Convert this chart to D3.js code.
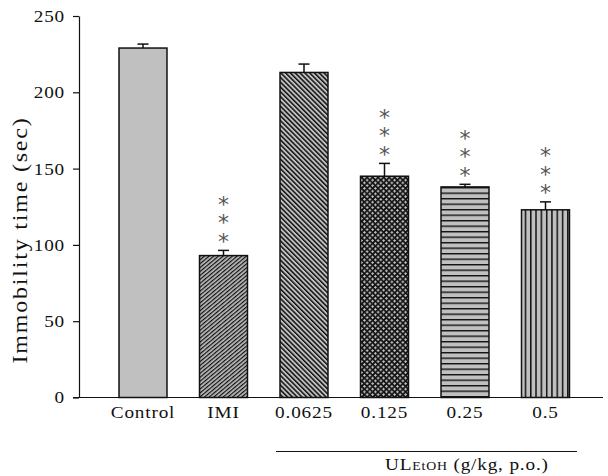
<!DOCTYPE html>
<html>
<head>
<meta charset="utf-8">
<script src="https://cdn.jsdelivr.net/npm/d3@7/dist/d3.min.js"></script>
<style>
  html, body { margin: 0; padding: 0; background: #fff; }
  svg { display: block; }
  text { font-family: "Liberation Serif", "Times New Roman", serif; fill: #111; }
  .stars { writing-mode: vertical-rl; text-orientation: upright; }
</style>
</head>
<body>
<svg id="chart" width="608" height="476"></svg>
<script>
const categories = ["Control", "IMI", "0.0625", "0.125", "0.25", "0.5"];
const means = [229, 93, 213, 145, 138, 123];
const errors = [2.6, 3.4, 5.5, 8.4, 1.7, 5.2];
const starCounts = [0, 3, 0, 3, 3, 3];
const patterns = ["solid", "fwd", "back", "check", "horiz", "vert"];
const yTicks = [0, 50, 100, 150, 200, 250];
const yTitle = "Immobility time (sec)";
const groupMain = "UL";
const groupSub = "EtOH";
const groupRest = " (g/kg, p.o.)";

const svg = d3.select("#chart");
const GRAY = "#c0c0c0", INK = "#111";
const SX = 1.2; // horizontal widening of the serif face
const LS = "0.7px";

const y = d3.scaleLinear().domain([0, 250]).range([397.5, 16]);
const x = d3.scaleBand().domain(categories).range([102.75, 585.75])
  .paddingInner(0.404).paddingOuter(0.202);

// ---- patterns ----
const defs = svg.append("defs");
function linePattern(id, period, lw, rot) {
  const p = defs.append("pattern").attr("id", id)
    .attr("patternUnits", "userSpaceOnUse")
    .attr("width", period).attr("height", 10)
    .attr("patternTransform", `rotate(${rot})`);
  p.append("rect").attr("width", period).attr("height", 10).attr("fill", GRAY);
  p.append("rect").attr("x", 0).attr("width", lw).attr("height", 10).attr("fill", INK);
}
linePattern("fwd", 3.0, 1.25, 50);
linePattern("back", 3.4, 1.5, -45);
linePattern("vert", 5.3, 1.5, 0);
linePattern("horiz", 5.5, 1.4, 90);
{
  const p = defs.append("pattern").attr("id", "check")
    .attr("patternUnits", "userSpaceOnUse").attr("width", 5.5).attr("height", 5.5);
  p.append("rect").attr("width", 5.5).attr("height", 5.5).attr("fill", "#151515");
  [[1.375, 1.375], [4.125, 4.125]].forEach(([cx, cy]) => {
    p.append("rect").attr("x", cx - 1.4).attr("y", cy - 0.5).attr("width", 2.8).attr("height", 1).attr("fill", GRAY);
    p.append("rect").attr("x", cx - 0.5).attr("y", cy - 1.4).attr("width", 1).attr("height", 2.8).attr("fill", GRAY);
  });
}
const fillOf = k => k === "solid" ? GRAY : `url(#${k})`;

// ---- bars ----
const data = categories.map((c, i) => ({ c, v: means[i], e: errors[i], s: starCounts[i], p: patterns[i] }));

svg.append("g").selectAll("rect").data(data).join("rect")
  .attr("x", d => x(d.c))
  .attr("y", d => y(d.v))
  .attr("width", x.bandwidth())
  .attr("height", d => y(0) - y(d.v))
  .attr("fill", d => fillOf(d.p))
  .attr("stroke", INK).attr("stroke-width", 1.5);

// ---- error bars ----
const eb = svg.append("g").attr("stroke", INK).attr("stroke-width", 1.5);
data.forEach(d => {
  const cx = x(d.c) + x.bandwidth() / 2;
  eb.append("line").attr("x1", cx).attr("x2", cx).attr("y1", y(d.v)).attr("y2", y(d.v + d.e));
  eb.append("line").attr("x1", cx - 5.5).attr("x2", cx + 5.5).attr("y1", y(d.v + d.e)).attr("y2", y(d.v + d.e));
});

// ---- asterisks (one vertical text per bar) ----
const sg = svg.append("g");
data.filter(d => d.s > 0).forEach(d => {
  const cx = x(d.c) + x.bandwidth() / 2;
  const firstCenter = y(d.v + d.e) - 12 - 18 * (d.s - 1);
  sg.append("text").attr("class", "stars")
    .attr("x", cx).attr("y", firstCenter - 10.5)
    .style("font-family", "'DejaVu Sans', sans-serif")
    .style("font-size", "22px")
    .style("letter-spacing", "-6.5px")
    .style("fill", "#555")
    .text("*".repeat(d.s));
});

// ---- y axis ----
const ya = svg.append("g").attr("transform", "translate(79,0)")
  .call(d3.axisLeft(y).tickValues(yTicks).tickSize(6).tickSizeOuter(0).tickPadding(8));
ya.select(".domain").attr("stroke", INK).attr("stroke-width", 1.2);
ya.selectAll(".tick line").attr("stroke", INK).attr("stroke-width", 1.2);
ya.selectAll(".tick text")
  .attr("x", -14 / SX).attr("dy", "0.34em")
  .attr("transform", `scale(${SX},1)`)
  .style("letter-spacing", LS)
  .style("font-size", "16px").style("font-family", "'Liberation Serif', serif").attr("fill", INK);

// ---- x axis ----
const xa = svg.append("g").attr("transform", `translate(0,${y(0)})`)
  .call(d3.axisBottom(x).tickSize(0).tickPadding(10));
xa.select(".domain").remove();
xa.selectAll(".tick text")
  .attr("y", 20.5).attr("dy", 0)
  .attr("transform", `scale(${SX},1)`)
  .style("letter-spacing", LS)
  .style("font-size", "16px").style("font-family", "'Liberation Serif', serif").attr("fill", INK);
svg.append("line").attr("x1", 73).attr("x2", 603).attr("y1", y(0)).attr("y2", y(0))
  .attr("stroke", INK).attr("stroke-width", 1.2);

// ---- y title ----
svg.append("g").attr("transform", "translate(26.5,240) rotate(-90) scale(1.2,1)")
  .append("text").attr("text-anchor", "middle")
  .style("font-size", "20px").style("letter-spacing", "1.5px").text(yTitle);

// ---- group bracket & label ----
svg.append("line").attr("x1", 276).attr("x2", 577).attr("y1", 451.5).attr("y2", 451.5)
  .attr("stroke", INK).attr("stroke-width", 1.2);
const gl = svg.append("g").attr("transform", `translate(385,470) scale(${SX},1)`)
  .append("text").attr("x", 0).attr("y", 0).style("font-size", "16px").style("letter-spacing", LS);
gl.append("tspan").text(groupMain);
gl.append("tspan").style("font-size", "11.5px").text(groupSub);
gl.append("tspan").text(groupRest);
</script>
</body>
</html>
